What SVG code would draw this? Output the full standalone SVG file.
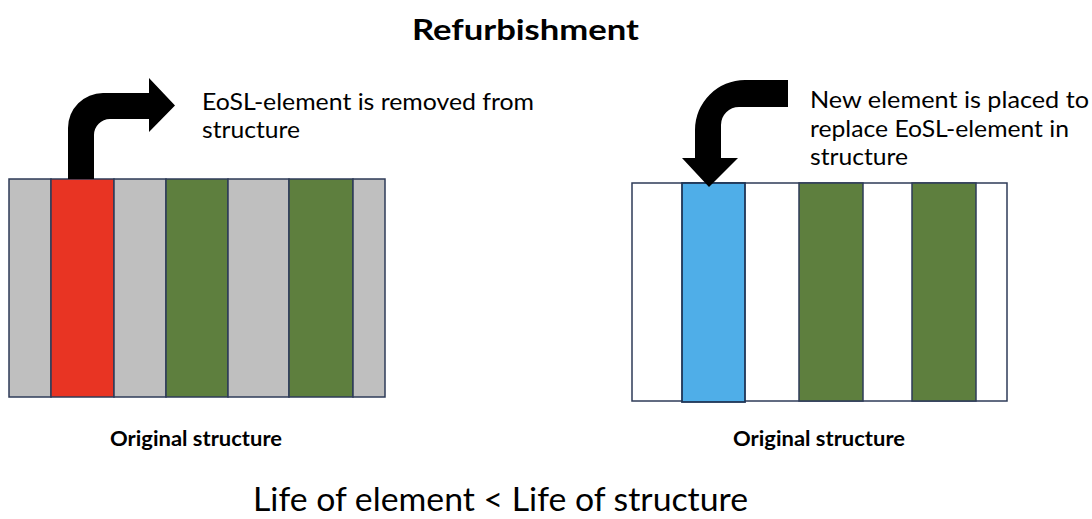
<svg xmlns="http://www.w3.org/2000/svg" width="1092" height="519" viewBox="0 0 1092 519">
  <style>
    .t { font-family: Lato, "Open Sans", "Liberation Sans", sans-serif; fill: #000; }
    .b { font-weight: bold; }
    .s { stroke: #2E3B58; stroke-width: 1.5; }
    .gray { fill: #BFBFBF; }
    .white { fill: #FFFFFF; }
    .red { fill: #E83423; }
    .green { fill: #5E7F3E; }
    .blue { fill: #4FAEE8; stroke: #1F3556; stroke-width: 1.8; }
    .arrow { fill: #000; }
  </style>
  <rect width="1092" height="519" fill="#fff"/>

  <text class="t b" x="412" y="40" font-size="28" textLength="227" lengthAdjust="spacingAndGlyphs">Refurbishment</text>

  <g id="left-structure">
    <rect class="gray s" x="9" y="179" width="42" height="218"/>
    <rect class="red s" x="51" y="179" width="63" height="218"/>
    <rect class="gray s" x="114" y="179" width="52" height="218"/>
    <rect class="green s" x="166" y="179" width="62" height="218"/>
    <rect class="gray s" x="228" y="179" width="61" height="218"/>
    <rect class="green s" x="289" y="179" width="64" height="218"/>
    <rect class="gray s" x="353" y="179" width="32" height="218"/>
    <text class="t b" x="110" y="446" font-size="20.5" textLength="172" lengthAdjust="spacingAndGlyphs">Original structure</text>
  </g>

  <g id="right-structure">
    <rect class="white s" x="632" y="183" width="375" height="218"/>
    <rect class="green s" x="799" y="183" width="64" height="218"/>
    <rect class="green s" x="912" y="183" width="64" height="218"/>
    <rect class="blue" x="682" y="183" width="63" height="219"/>
    <text class="t b" x="733" y="446" font-size="20.5" textLength="172" lengthAdjust="spacingAndGlyphs">Original structure</text>
  </g>

  <g id="connectors">
    <path id="arrow-out" class="arrow" d="M68,179 L68,128 A35,35 0 0 1 103,93 L149,93 L149,78 L175,105.5 L149,132 L149,119 L110,119 A16,16 0 0 0 94,135 L94,179 Z"/>
    <path id="arrow-in" class="arrow" d="M788,80 L745,80 A50,50 0 0 0 695,130 L695,158 L682,158 L709,187 L738,158 L721,158 L721,125 A18,18 0 0 1 739,107 L788,107 Z"/>
  </g>

  <g id="label-left">
    <text class="t" x="202" y="110" font-size="22.5" textLength="332" lengthAdjust="spacingAndGlyphs">EoSL-element is removed from</text>
    <text class="t" x="202" y="137.5" font-size="22.5" textLength="98" lengthAdjust="spacingAndGlyphs">structure</text>
  </g>

  <g id="label-right">
    <text class="t" x="810" y="108" font-size="22.5" textLength="279" lengthAdjust="spacingAndGlyphs">New element is placed to</text>
    <text class="t" x="810" y="136.5" font-size="22.5" textLength="259" lengthAdjust="spacingAndGlyphs">replace EoSL-element in</text>
    <text class="t" x="810" y="165" font-size="22.5" textLength="98" lengthAdjust="spacingAndGlyphs">structure</text>
  </g>

  <text class="t" x="253" y="511" font-size="33" textLength="495" lengthAdjust="spacingAndGlyphs">Life of element &lt; Life of structure</text>
</svg>
